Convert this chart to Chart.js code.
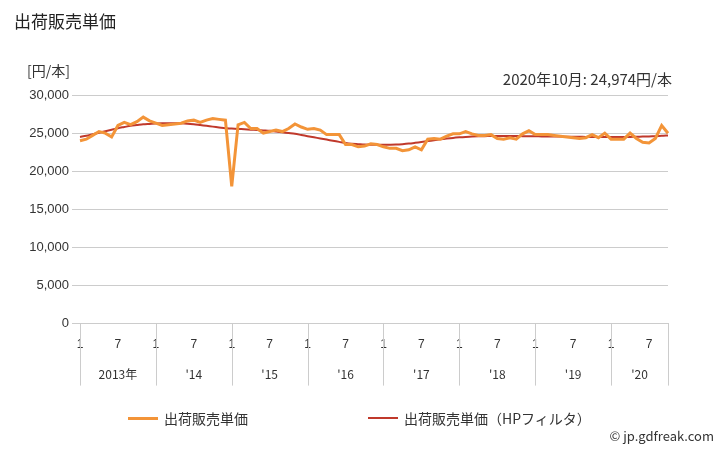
<!DOCTYPE html>
<html><head><meta charset="utf-8">
<script src="https://cdn.jsdelivr.net/npm/chart.js@4"></script>
<style>body{margin:0;background:#fff;font-family:"Noto Sans CJK JP","Noto Sans",sans-serif}#w{position:relative;width:728px;height:450px}
.lg{position:absolute;top:408px;font-size:14px;color:#333;display:flex;align-items:center}.lg span{display:inline-block;width:30px;height:3px;margin-right:6px}</style>
</head><body><div id="w"><canvas id="c" width="728" height="450"></canvas>
<script>
const years=["2013年","'14","'15","'16","'17","'18","'19","'20"];
const price=[24000,24200,24700,25200,25000,24500,26000,26400,26100,26500,27100,26600,
26300,26000,26100,26200,26300,26600,26700,26400,26700,26900,26800,26700,
18000,26100,26400,25600,25600,25000,25200,25400,25200,25600,26200,25800,
25500,25600,25400,24800,24800,24800,23500,23500,23200,23300,23600,23500,
23200,23000,23000,22700,22800,23200,22800,24200,24300,24200,24600,24900,
24900,25200,24900,24700,24700,24800,24300,24200,24400,24200,24900,25300,
24800,24800,24800,24700,24600,24500,24400,24300,24400,24800,24400,25000,
24200,24200,24200,25000,24300,23800,23700,24300,26000,24974];
const hp=[24500,24650,24850,25050,25250,25450,25650,25800,25950,26050,26150,26200,
26250,26280,26300,26300,26280,26230,26150,26050,25950,25850,25750,25650,
25600,25550,25500,25450,25400,25350,25300,25200,25100,25000,24900,24750,
24600,24450,24300,24150,24000,23850,23700,23600,23550,23500,23480,23470,
23470,23480,23500,23550,23620,23720,23830,23950,24070,24180,24280,24370,
24440,24500,24550,24580,24600,24610,24620,24620,24620,24610,24600,24590,
24580,24570,24560,24550,24540,24530,24520,24510,24500,24490,24480,24480,
24480,24480,24490,24500,24520,24540,24570,24600,24640,24700];
const labels=price.map((v,i)=>{const m=i%12+1;return (m===1||m===7)?String(m):"";});
const yearPlugin={id:'yp',afterDraw(ch){const x=ch.scales.x,c=ch.ctx,b=ch.chartArea;c.save();
c.strokeStyle='#ccc';c.lineWidth=1;c.fillStyle='#333';c.font='12px "Noto Sans CJK JP"';c.textAlign='center';
for(let y=0;y<years.length;y++){const s=y*12;const px=x.getPixelForValue(s);
c.beginPath();c.moveTo(Math.round(px)+.5,b.bottom);c.lineTo(Math.round(px)+.5,b.bottom+62);c.stroke();
const nx=y===years.length-1?b.right:x.getPixelForValue(s+12);
c.fillText(years[y],(px+nx)/2,b.bottom+55);}
c.beginPath();c.moveTo(b.right+.5,b.bottom);c.lineTo(b.right+.5,b.bottom+62);c.stroke();
c.restore();}};
new Chart(document.getElementById('c'),{type:'line',data:{labels,datasets:[
{label:'出荷販売単価',data:price,borderColor:'#f39438',borderWidth:3,pointRadius:0,tension:0},
{label:'出荷販売単価（HPフィルタ）',data:hp,borderColor:'#c0392b',borderWidth:2,pointRadius:0,tension:0.3}]},
options:{responsive:false,animation:false,layout:{padding:{left:10,right:60,top:95,bottom:92}},
plugins:{legend:{display:false},tooltip:{enabled:false}},
scales:{x:{offset:false,grid:{display:false},border:{color:'#ccc'},ticks:{autoSkip:false,maxRotation:0,color:'#333',font:{size:12},padding:6}},
y:{min:0,max:30000,afterFit(s){s.width=70},ticks:{stepSize:5000,color:'#333',font:{size:13},callback:v=>v.toLocaleString('en-US')},grid:{color:'#ccc'},border:{display:false}}}}
,plugins:[yearPlugin]});
</script>
<div style="position:absolute;left:14px;top:8px;font-size:17px;color:#222">出荷販売単価</div>
<div style="position:absolute;left:27px;top:60px;font-size:14px;color:#333">[円/本]</div>
<div style="position:absolute;right:56px;top:68px;font-size:15px;color:#333">2020年10月: 24,974円/本</div>
<div class="lg" style="left:128px"><span style="background:#f39438"></span>出荷販売単価</div>
<div class="lg" style="left:368px"><span style="background:#c0392b;height:2px"></span>出荷販売単価（HPフィルタ）</div>
<div style="position:absolute;right:14px;top:426px;font-size:13px;color:#333">© jp.gdfreak.com</div>
</div></body></html>
